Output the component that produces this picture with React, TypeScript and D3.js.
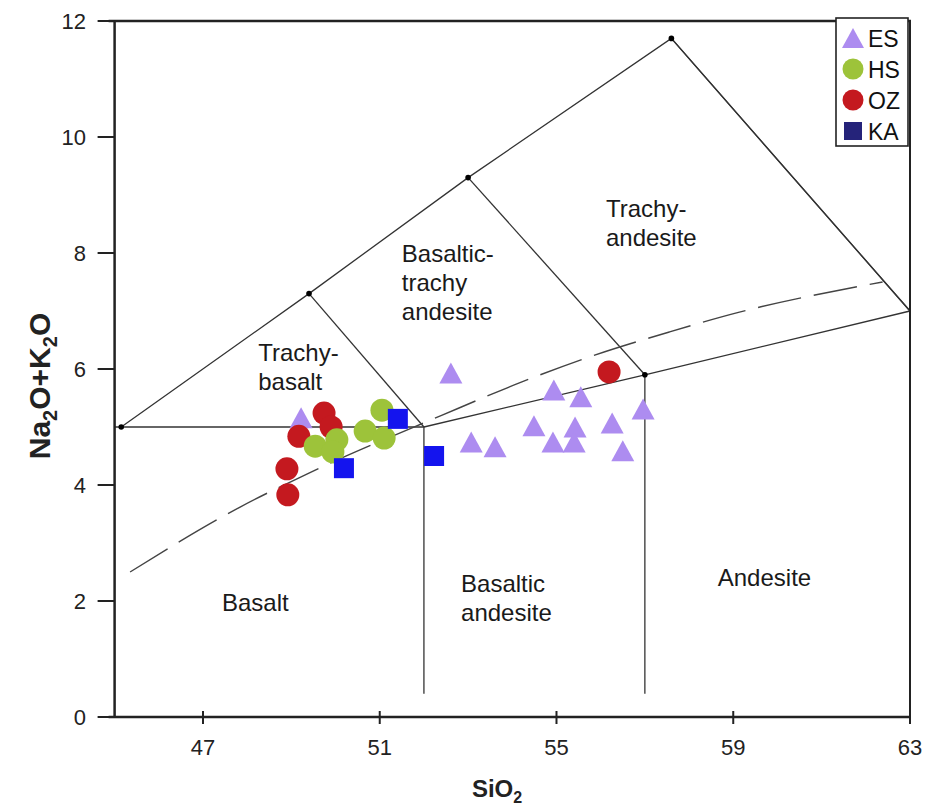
import React from "react";
import * as d3 from "d3";

// ---- data ----
const ES: [number, number][] = [
  [49.22, 5.16], [52.61, 5.93], [54.94, 5.64], [55.55, 5.52], [54.49, 5.02],
  [53.07, 4.74], [53.61, 4.66], [54.92, 4.74], [55.42, 5.0], [55.4, 4.74],
  [56.26, 5.07], [56.5, 4.59], [56.96, 5.31],
];
const HS: [number, number][] = [
  [51.05, 5.29], [50.67, 4.93], [51.1, 4.81], [49.54, 4.67], [50.03, 4.78], [49.94, 4.57],
];
const OZ: [number, number][] = [
  [49.74, 5.24], [49.9, 5.0], [49.17, 4.84], [48.9, 4.28], [48.92, 3.83], [56.19, 5.95],
];
const KA: [number, number][] = [
  [51.41, 5.14], [50.19, 4.29], [52.23, 4.5],
];

const xTicks = [47, 51, 55, 59, 63];
const yTicks = [0, 2, 4, 6, 8, 10, 12];

// TAS field boundaries (SiO2, Na2O+K2O)
const boundaries: [number, number][][] = [
  [[45.15, 5], [49.4, 7.3], [53, 9.3], [57.6, 11.7], [63, 7]],
  [[45, 5], [52, 5]],
  [[49.4, 7.3], [52, 5]],
  [[53, 9.3], [57, 5.9]],
  [[57.6, 11.7], [63, 7]],
  [[52, 5], [57, 5.9], [63, 7]],
  [[52, 5], [52, 0.4]],
  [[57, 5.9], [57, 0.4]],
];
const vertices: [number, number][] = [
  [45.15, 5], [49.4, 7.3], [53, 9.3], [57.6, 11.7], [57, 5.9],
];
// Irvine & Baragar alkaline / subalkaline divide
const divide: [number, number][] = [
  [45.35, 2.5], [47.84, 3.62], [49.41, 4.21], [52.4, 5.2], [54.16, 5.76],
  [55.75, 6.21], [57.56, 6.64], [59.14, 6.98], [62.38, 7.5],
];

const regionLabels: { lines: string[]; x: number; y: number }[] = [
  { lines: ["Trachy-", "basalt"], x: 48.25, y: 6.29 },
  { lines: ["Basaltic-", "trachy", "andesite"], x: 51.5, y: 8.0 },
  { lines: ["Trachy-", "andesite"], x: 56.12, y: 8.76 },
  { lines: ["Basalt"], x: 47.43, y: 1.98 },
  { lines: ["Basaltic", "andesite"], x: 52.84, y: 2.31 },
  { lines: ["Andesite"], x: 58.65, y: 2.41 },
];

const legendItems = [
  { name: "ES", shape: "tri", color: "#ad8cf0" },
  { name: "HS", shape: "circ", color: "#9dc33a" },
  { name: "OZ", shape: "circ", color: "#c4191f" },
  { name: "KA", shape: "sq", color: "#25237a" },
];

const FONT = "'Liberation Sans', Arial, sans-serif";

export default function App() {
  const W = 927, H = 808;
  const x = d3.scaleLinear().domain([45, 63]).range([114.6, 910]);
  const y = d3.scaleLinear().domain([0, 12]).range([717, 21]);
  const line = d3.line<[number, number]>().x((d) => x(d[0])).y((d) => y(d[1]));
  const curve = d3
    .line<[number, number]>()
    .x((d) => x(d[0]))
    .y((d) => y(d[1]))
    .curve(d3.curveMonotoneX);

  const tri = (cx: number, cy: number, w: number, h: number) =>
    `M${cx},${cy - h / 2}L${cx + w / 2},${cy + h / 2}L${cx - w / 2},${cy + h / 2}Z`;

  return (
    <svg
      width={W}
      height={H}
      style={{ position: "absolute", left: 0, top: 0, background: "#fff" }}
      fontFamily={FONT}
    >
      <rect width={W} height={H} fill="#fff" />
      {/* boundaries */}
      {boundaries.map((b, i) => (
        <path key={i} d={line(b) || ""} fill="none" stroke="#333" strokeWidth={1.3} />
      ))}
      <path
        d={curve(divide) || ""}
        fill="none"
        stroke="#444"
        strokeWidth={1.4}
        strokeDasharray="44 13"
      />
      {vertices.map((v, i) => (
        <circle key={i} cx={x(v[0])} cy={y(v[1])} r={2.8} fill="#000" />
      ))}

      {/* region labels */}
      {regionLabels.map((r, i) => (
        <text key={i} x={x(r.x)} y={y(r.y) + 8.5} fontSize={24} fill="#1a1a1a">
          {r.lines.map((l, j) => (
            <tspan key={j} x={x(r.x)} dy={j === 0 ? 0 : 29}>
              {l}
            </tspan>
          ))}
        </text>
      ))}

      {/* data */}
      {ES.map((d, i) => (
        <path key={"es" + i} d={tri(x(d[0]), y(d[1]), 23, 21)} fill="#ad8cf0" />
      ))}
      {OZ.map((d, i) => (
        <circle key={"oz" + i} cx={x(d[0])} cy={y(d[1])} r={11.5} fill="#c4191f" />
      ))}
      {HS.map((d, i) => (
        <circle key={"hs" + i} cx={x(d[0])} cy={y(d[1])} r={11.5} fill="#9dc33a" />
      ))}
      {KA.map((d, i) => (
        <rect
          key={"ka" + i}
          x={x(d[0]) - 10}
          y={y(d[1]) - 10}
          width={20}
          height={20}
          fill="#1414ee"
        />
      ))}

      {/* frame */}
      <line x1={x(45)} x2={x(45)} y1={y(12)} y2={y(0)} stroke="#222" strokeWidth={2.5} />
      <line x1={x(45) - 6} x2={x(63)} y1={y(0)} y2={y(0)} stroke="#222" strokeWidth={2.5} />
      <line x1={x(45) - 6} x2={x(63) + 1} y1={y(12)} y2={y(12)} stroke="#222" strokeWidth={2.5} />
      <line x1={x(63)} x2={x(63)} y1={y(12)} y2={y(0)} stroke="#222" strokeWidth={2} />

      {/* y ticks */}
      {yTicks.map((t) => (
        <g key={"y" + t}>
          <line x1={x(45) - 17} x2={x(45)} y1={y(t)} y2={y(t)} stroke="#222" strokeWidth={2} />
          <text x={86} y={y(t) + 8} fontSize={22} textAnchor="end" fill="#222">
            {t}
          </text>
        </g>
      ))}
      {/* x ticks */}
      {xTicks.map((t) => (
        <g key={"x" + t}>
          <line x1={x(t)} x2={x(t)} y1={y(0) - 6} y2={y(0) + 7} stroke="#222" strokeWidth={2} />
          <text x={x(t)} y={755} fontSize={22} textAnchor="middle" fill="#222">
            {t}
          </text>
        </g>
      ))}

      {/* axis titles */}
      <text x={497} y={797} fontSize={24} fontWeight="bold" textAnchor="middle" fill="#222">
        SiO<tspan fontSize={16} dy={6}>2</tspan>
      </text>
      <text
        transform={`translate(50,386) rotate(-90)`}
        fontSize={30}
        fontWeight="bold"
        textAnchor="middle"
        fill="#222"
      >
        Na<tspan fontSize={20} dy={7}>2</tspan>
        <tspan dy={-7}>O+K</tspan>
        <tspan fontSize={20} dy={7}>2</tspan>
        <tspan dy={-7}>O</tspan>
      </text>

      {/* legend */}
      <rect x={836} y={18} width={72} height={128} fill="#fff" stroke="#222" strokeWidth={1.6} />
      {legendItems.map((it, i) => {
        const cy = 38 + i * 31;
        const cx = 853;
        return (
          <g key={it.name}>
            {it.shape === "tri" && <path d={tri(cx, cy, 22, 20)} fill={it.color} />}
            {it.shape === "circ" && <circle cx={cx} cy={cy} r={10.5} fill={it.color} />}
            {it.shape === "sq" && (
              <rect x={cx - 9} y={cy - 9} width={18} height={18} fill={it.color} />
            )}
            <text x={868} y={cy + 8.5} fontSize={23} fill="#111">
              {it.name}
            </text>
          </g>
        );
      })}
    </svg>
  );
}
